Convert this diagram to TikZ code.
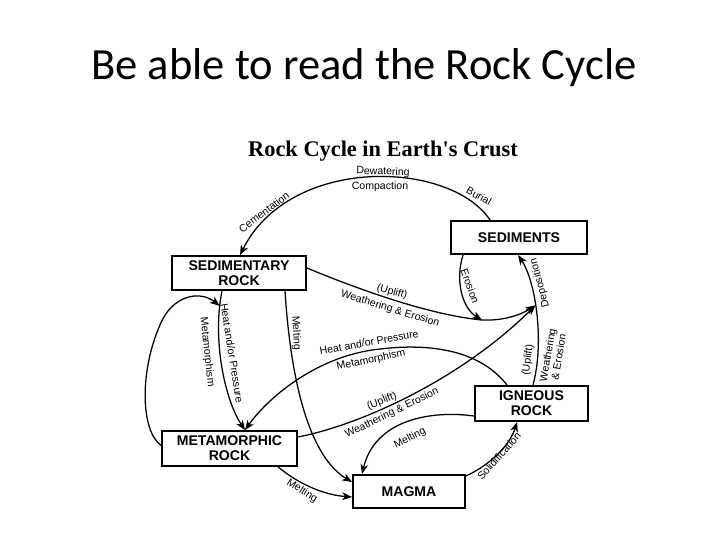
\documentclass[tikz,border=0pt]{standalone}
\usepackage{fontspec}
\newfontfamily\slidefont{Carlito}
\newfontfamily\labelfont{Liberation Sans}
\newfontfamily\headfont{Liberation Serif}
\usetikzlibrary{arrows.meta,calc}

\begin{document}
\begin{tikzpicture}[x=0.025cm,y=-0.025cm,
		rockbox/.style={draw,line width=1.3pt,inner sep=0pt,align=center,
			font=\labelfont\bfseries\fontsize{10}{10.5}\selectfont},
		cyclelbl/.style={inner sep=0.5pt,font=\labelfont\fontsize{7.5}{8}\selectfont},
		flow/.style={line width=0.9pt,-{Stealth[length=7pt,width=5.5pt,inset=2pt]}}]
		
		\path[use as bounding box] (0,0) rectangle (720,540);
		
		\node[anchor=base,font=\slidefont\fontsize{31.7}{38}\selectfont] (heading) at (364,79) {Be able to read the Rock Cycle};
		\node[anchor=base,font=\headfont\bfseries\fontsize{15.9}{19}\selectfont] (esrt) at (383,156) {Rock Cycle in Earth's Crust};
		
		% the five boxes
		\node[rockbox,minimum width=3.4cm,minimum height=0.83cm] (sedim) at (519,237.5) {SEDIMENTS};
		\node[rockbox,minimum width=3.35cm,minimum height=0.85cm] (sedrock) at (239,273) {SEDIMENTARY\\ROCK};
		\node[rockbox,minimum width=3.375cm,minimum height=0.875cm] (metarock) at (229.5,448.5) {METAMORPHIC\\ROCK};
		\node[rockbox,minimum width=2.8cm,minimum height=0.83cm] (magma) at (409,491.5) {MAGMA};
		\node[rockbox,minimum width=2.83cm,minimum height=0.875cm] (igrock) at (531.5,403.5) {IGNEOUS\\ROCK};
		
		% igneous rock up to sediments
		\draw[flow] ($(igrock.north)+(1.5,0)$) .. controls (545,340) and (535,280) .. ($(sedim.south)+(-1,0)$)
		coordinate[pos=0.55] (djoin);
		
		% sediments round to sedimentary rock
		\draw[flow] ($(sedim.north)+(-29,0)$) .. controls (450,160) and (290,155) .. ($(sedrock.north)+(1,0)$);
		
		% sedimentary rock down to metamorphic rock
		\draw[flow] ($(sedrock.south)+(-17,0)$) .. controls (212,340) and (225,400) .. ($(metarock.north)+(15.5,0)$)
		coordinate[pos=0.1] (mjoin);
		\draw[flow] ($(metarock.west)+(0,-3)$) .. controls (140,430) and (140,370) .. (160,325)
		.. controls (172,295) and (200,290) .. (mjoin);
		
		\draw[flow] ($(sedrock.south)+(46,0)$) .. controls (292,400) and (315,460) .. ($(magma.west)+(0,-9.5)$);
		
		% weathering paths
		\coordinate (wjoin) at (482,320);
		\draw[flow] ($(sedrock.east)+(0,-5)$) .. controls (360,290) and (430,315) .. (wjoin)
		.. controls (505,321) and (522,314) .. (djoin);
		\draw[flow] ($(sedim.south)+(-56,0)$) .. controls (455,280) and (462,308) .. (wjoin);
		\draw[flow] ($(metarock.east)+(0,-11.5)$) .. controls (360,425) and (460,380) .. (djoin);
		
		\draw[flow] ($(igrock.north)+(-24.5,0)$) .. controls (480,350) and (430,343) .. (380,349)
		.. controls (320,355) and (270,395) .. ($(metarock.north)+(15.5,0)$);
		
		% into and out of magma
		\draw[flow] ($(igrock.west)+(0,12.5)$) .. controls (430,410) and (375,420) .. ($(magma.north)+(-47,0)$);
		\draw[flow] ($(metarock.south)+(48.5,0)$) .. controls (300,485) and (325,495) .. ($(magma.west)+(0,5.5)$);
		\draw[flow] ($(magma.east)+(0,-15.5)$) .. controls (490,465) and (510,445) .. ($(igrock.south)+(-14.5,0)$);
		
		% labels
		\node[cyclelbl,rotate=-2] (dewater) at (383,172) {Dewatering};
		\node[cyclelbl] (compact) at (380,187) {Compaction};
		\node[cyclelbl,rotate=37] (cement) at (264,212) {Cementation};
		\node[cyclelbl,rotate=-30] (burial) at (479,196) {Burial};
		\node[cyclelbl,rotate=-81] (heatA) at (232,353) {Heat and/or Pressure};
		\node[cyclelbl,rotate=-84] (metaA) at (207,352) {Metamorphism};
		\node[cyclelbl,rotate=-87] (meltA) at (296,333) {Melting};
		\node[cyclelbl,rotate=-15] (upliftA) at (392,292) {(Uplift)};
		\node[cyclelbl,rotate=-17] (weatherA) at (390,309) {Weathering \& Erosion};
		\node[cyclelbl,rotate=-70] (erosion) at (470,286) {Erosion};
		\node[cyclelbl,rotate=105] (deposit) at (540,283) {Deposition};
		\node[cyclelbl,rotate=82] (upliftC) at (528,360) {(Uplift)};
		\node[cyclelbl,rotate=80,align=center] (weatherC) at (553,356) {Weathering\\\& Erosion};
		\node[cyclelbl,rotate=10] (heatB) at (369,342) {Heat and/or Pressure};
		\node[cyclelbl,rotate=12] (metaB) at (371,360) {Metamorphism};
		\node[cyclelbl,rotate=22] (upliftB) at (382,401) {(Uplift)};
		\node[cyclelbl,rotate=26] (weatherB) at (392,413) {Weathering \& Erosion};
		\node[cyclelbl,rotate=27] (meltB) at (410,438) {Melting};
		\node[cyclelbl,rotate=-32] (meltC) at (302,491) {Melting};
		\node[cyclelbl,rotate=48] (solid) at (499,456) {Solidification};
		
	\end{tikzpicture}
\end{document}
